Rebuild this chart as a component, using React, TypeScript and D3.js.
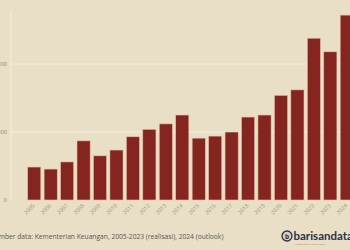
import * as d3 from "d3";

const years = [
  "2005", "2006", "2007", "2008", "2009", "2010", "2011", "2012", "2013", "2014",
  "2015", "2016", "2017", "2018", "2019", "2020", "2021", "2022", "2023", "2024",
];
const values = [
  97, 91, 112, 174, 130, 147, 186, 208, 224, 250,
  182, 188, 200, 244, 250, 308, 324, 476, 436, 544,
];
const yTicks = [0, 200, 400];
const caption =
  "Sumber data: Kementerian Keuangan, 2005-2023 (realisasi), 2024 (outlook)";

const W = 350;
const H = 250;

export default function App() {
  const x = d3
    .scaleBand()
    .domain(years)
    .range([26, 355])
    .paddingInner(0.2)
    .paddingOuter(0.1);

  const y = d3.scaleLinear().domain([0, 559]).range([200, 10]);

  return (
    <svg
      width={W}
      height={H}
      style={{ position: "absolute", left: 0, top: 0, fontFamily: "Open Sans, sans-serif" }}
    >
      <rect width={W} height={H} fill="#e8dfc6" />
      {/* grid */}
      <line x1={11} x2={11} y1={y.range()[1]} y2={200} stroke="#f4eedd" strokeWidth={1} />
      {yTicks.map((t) => (
        <g key={t}>
          {t > 0 && (
            <line x1={11} x2={W} y1={y(t)} y2={y(t)} stroke="#f4eedd" strokeWidth={1} />
          )}
          <text x={7} y={y(t) + 2} textAnchor="end" fontSize={6} fill="#8a8678">
            {t}
          </text>
        </g>
      ))}
      {/* bars */}
      {years.map((yr, i) => (
        <rect
          key={yr}
          x={x(yr)}
          y={y(values[i])}
          width={x.bandwidth()}
          height={200 - y(values[i])}
          fill="#852520"
          stroke="#e6bfa8"
          strokeWidth={0.6}
        />
      ))}
      {/* x labels */}
      {years.map((yr) => {
        const cx = (x(yr) as number) + x.bandwidth() / 2 + 1;
        return (
          <text
            key={yr}
            transform={`translate(${cx},206) rotate(-45)`}
            textAnchor="end"
            fontSize={5.5}
            fill="#9a958a"
          >
            {yr}
          </text>
        );
      })}
      {/* caption */}
      <text x={-9} y={239} fontSize={6.7} fill="#5a574f">
        {caption}
      </text>
      {/* logo */}
      <g transform="translate(287,236)">
        <circle r={5} fill="#d8d0c0" stroke="#2e3148" strokeWidth={1.3} />
        <text x={0} y={2.5} textAnchor="middle" fontSize={6.5} fontWeight="bold" fill="#2e3148">
          b
        </text>
        <text x={6.5} y={4} fontSize={11.5} fontWeight="bold" fill="#2e3148" fontFamily="Lato, sans-serif">
          barisandata
        </text>
        <text x={8} y={8.5} fontSize={2.5} fill="#c8703a">
          ulasan data di balik berita
        </text>
      </g>
    </svg>
  );
}
